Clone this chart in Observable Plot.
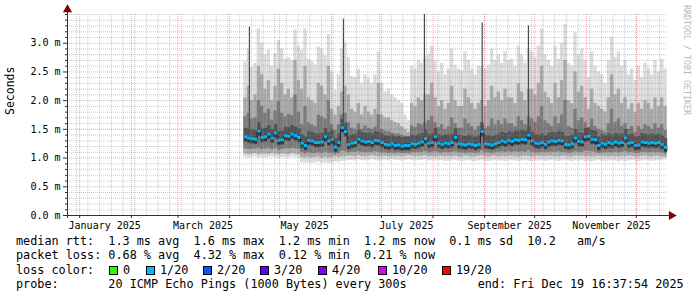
<!DOCTYPE html>
<html><head><meta charset="utf-8">
<script src="https://cdn.jsdelivr.net/npm/d3@7"></script>
<script src="https://cdn.jsdelivr.net/npm/@observablehq/plot@0.6"></script>
<style>
html,body{margin:0;padding:0;background:#fff}
body{width:697px;height:297px;overflow:hidden;position:relative;font-family:"DejaVu Sans Mono",monospace}
#chart{position:absolute;left:0;top:0}
#legend{position:absolute;left:16px;top:234px;width:670px;font-size:11.8px;line-height:14.3px;color:#000}
.ln{position:relative;height:14.3px;white-space:pre}
.it{position:absolute;top:0;white-space:pre}
.sq{position:absolute;top:3px;width:9px;height:9px;border:1px solid #000;box-sizing:border-box}
#wm{position:absolute;left:682px;top:5px;writing-mode:vertical-rl;font-size:8.3px;color:#b8b8b8;white-space:pre;line-height:10px}
</style></head><body>
<div id="chart"></div>
<div id="legend"></div>
<div id="wm">RRDTOOL / TOBI OETIKER</div>
<script>
// ---- time range (360 days ending at the "end" stamp) ----
const xStart = new Date(Date.UTC(2024, 11, 24, 16, 37, 54));
const xEnd = new Date(Date.UTC(2025, 11, 19, 16, 37, 54));
const firstColumn = Date.UTC(2025, 3, 9, 12); // data begins early April
const columnDays = 2;

// ---- x tick labels ----
const monthLabels = ["January 2025", "March 2025", "May 2025", "July 2025", "September 2025", "November 2025"];
const monthLabelDates = [Date.UTC(2025,0,16), Date.UTC(2025,2,16), Date.UTC(2025,4,16), Date.UTC(2025,6,16), Date.UTC(2025,8,16), Date.UTC(2025,10,16)];

// ---- y ticks ----
const yMajor = [0, 0.5, 1.0, 1.5, 2.0, 2.5, 3.0];
const yMinor = [0.1,0.2,0.3,0.4,0.6,0.7,0.8,0.9,1.1,1.2,1.3,1.4,1.6,1.7,1.8,1.9,2.1,2.2,2.3,2.4,2.6,2.7,2.8,2.9,3.1,3.2,3.3,3.4,3.5];

// ---- smoke (ms), one value per 2-day column ----
const hi = [
2.67,2.90,2.58,2.65,3.25,3.00,2.80,2.88,2.60,2.82,
3.05,2.90,2.72,2.75,2.70,3.23,2.95,2.88,3.25,2.72,
2.68,2.62,2.93,2.90,2.78,3.15,2.50,2.18,2.45,2.90,
3.00,2.75,2.42,2.40,2.55,2.30,2.45,2.38,2.30,2.45,
2.85,2.30,2.15,2.20,2.10,2.05,2.00,1.95,1.75,1.65,
2.60,2.55,2.70,2.65,2.75,2.80,2.95,2.70,2.50,2.65,
2.45,2.55,2.90,2.62,2.55,2.52,2.85,2.70,2.55,2.45,
2.60,2.60,2.55,2.62,2.90,2.70,2.80,2.65,2.85,2.70,
2.72,2.60,2.95,2.80,2.65,2.90,2.85,2.75,2.95,3.25,
2.80,2.70,2.60,2.95,2.72,3.00,3.33,2.65,2.60,3.18,
2.80,2.90,2.70,2.40,2.85,2.60,2.50,2.45,2.30,2.70,
3.10,2.75,2.85,2.60,2.70,2.45,2.55,2.35,2.60,2.40,
2.65,2.55,2.45,2.70,2.50,2.72,2.55];
const up2 = [
2.05,2.25,2.00,2.10,2.60,2.45,2.20,2.35,2.00,2.25,
2.55,2.30,2.10,2.20,2.05,2.70,2.35,2.20,2.60,2.05,
2.00,1.95,2.30,2.25,2.10,2.60,1.85,1.75,1.90,2.15,
2.25,2.10,1.85,1.80,1.95,1.75,1.90,1.80,1.75,1.85,
2.30,1.75,1.70,1.70,1.65,1.62,1.60,1.55,1.50,1.45,
1.95,1.90,2.05,2.00,2.10,2.10,2.30,2.05,1.90,2.00,
1.85,1.95,2.25,2.00,1.90,1.90,2.20,2.05,1.95,1.85,
1.95,2.00,1.90,2.00,2.25,2.05,2.15,2.00,2.20,2.05,
2.05,1.95,2.30,2.15,2.00,2.20,2.20,2.10,2.30,2.60,
2.15,2.05,1.95,2.30,2.05,2.35,2.70,2.00,1.95,2.50,
2.15,2.25,2.05,1.85,2.20,1.95,1.90,1.85,1.80,2.05,
2.45,2.10,2.20,1.95,2.05,1.85,1.95,1.80,1.95,1.85,
2.00,1.95,1.85,2.05,1.90,2.05,1.90];
const up3 = [
1.72,1.78,1.68,1.70,2.00,1.90,1.78,1.85,1.66,1.82,
1.98,1.78,1.72,1.76,1.74,2.10,1.80,1.58,1.90,1.62,
1.58,1.55,1.75,1.72,1.68,2.00,1.58,1.48,1.58,1.75,
1.78,1.62,1.52,1.50,1.60,1.50,1.56,1.52,1.50,1.54,
1.75,1.50,1.47,1.46,1.44,1.42,1.42,1.40,1.38,1.37,
1.56,1.53,1.60,1.58,1.62,1.65,1.72,1.62,1.53,1.58,
1.50,1.55,1.70,1.60,1.52,1.52,1.68,1.60,1.55,1.48,
1.55,1.62,1.52,1.55,1.68,1.58,1.65,1.58,1.68,1.60,
1.60,1.55,1.72,1.65,1.58,1.72,1.68,1.62,1.72,1.90,
1.65,1.60,1.55,1.72,1.60,1.75,2.00,1.55,1.52,1.85,
1.65,1.70,1.62,1.50,1.68,1.55,1.50,1.48,1.45,1.60,
1.85,1.62,1.68,1.55,1.60,1.50,1.55,1.45,1.55,1.50,
1.58,1.55,1.50,1.60,1.52,1.58,1.48];
const median = [
1.37,1.35,1.34,1.33,1.47,1.36,1.37,1.42,1.35,1.44,
1.31,1.32,1.39,1.38,1.42,1.39,1.36,1.26,1.22,1.31,
1.30,1.27,1.27,1.28,1.37,1.30,1.33,1.19,1.27,1.53,
1.46,1.24,1.26,1.27,1.33,1.30,1.28,1.29,1.27,1.31,
1.30,1.27,1.24,1.23,1.25,1.22,1.23,1.21,1.22,1.22,
1.25,1.24,1.26,1.28,1.34,1.26,1.27,1.37,1.26,1.24,
1.26,1.25,1.27,1.36,1.25,1.24,1.23,1.25,1.24,1.22,
1.24,1.46,1.25,1.24,1.23,1.25,1.27,1.30,1.28,1.31,
1.29,1.32,1.31,1.33,1.32,1.40,1.30,1.26,1.25,1.27,
1.24,1.28,1.30,1.29,1.31,1.30,1.24,1.23,1.25,1.35,
1.29,1.28,1.37,1.38,1.33,1.32,1.22,1.26,1.24,1.27,
1.25,1.28,1.26,1.27,1.35,1.26,1.27,1.22,1.23,1.28,
1.27,1.26,1.27,1.26,1.27,1.24,1.19];
const lo3 = [
1.16,1.15,1.15,1.16,1.17,1.15,1.16,1.17,1.15,1.17,
1.14,1.15,1.16,1.16,1.17,1.16,1.15,1.09,1.07,1.09,
1.08,1.08,1.09,1.08,1.10,1.08,1.09,1.06,1.08,1.12,
1.11,1.09,1.10,1.10,1.11,1.10,1.09,1.10,1.10,1.11,
1.10,1.09,1.09,1.08,1.09,1.08,1.09,1.08,1.08,1.08,
1.09,1.09,1.10,1.10,1.11,1.09,1.10,1.11,1.09,1.09,
1.10,1.09,1.10,1.11,1.09,1.09,1.08,1.09,1.09,1.08,
1.09,1.12,1.09,1.09,1.08,1.09,1.10,1.11,1.10,1.11,
1.10,1.11,1.10,1.11,1.10,1.13,1.10,1.09,1.09,1.10,
1.09,1.10,1.10,1.10,1.11,1.10,1.09,1.08,1.09,1.11,
1.10,1.10,1.12,1.12,1.11,1.10,1.08,1.09,1.09,1.10,
1.09,1.10,1.09,1.10,1.11,1.09,1.10,1.08,1.08,1.10,
1.10,1.09,1.10,1.09,1.10,1.09,1.07];
const lo2 = [
1.07,1.06,1.07,1.08,1.06,1.07,1.07,1.06,1.08,1.07,
1.06,1.07,1.07,1.06,1.08,1.07,1.06,1.01,1.00,1.01,
1.00,1.01,1.02,1.00,1.01,1.00,1.01,1.02,1.01,1.02,
1.02,1.03,1.03,1.02,1.04,1.03,1.02,1.03,1.04,1.03,
1.02,1.03,1.03,1.02,1.03,1.02,1.03,1.02,1.03,1.04,
1.03,1.02,1.03,1.03,1.04,1.02,1.03,1.02,1.03,1.03,
1.02,1.03,1.02,1.03,1.02,1.02,1.03,1.03,1.02,1.02,
1.03,1.04,1.02,1.02,1.03,1.03,1.02,1.03,1.02,1.03,
1.03,1.02,1.02,1.03,1.03,1.03,1.02,1.02,1.03,1.03,
1.02,1.03,1.03,1.02,1.02,1.03,1.03,1.02,1.02,1.03,
1.03,1.03,1.02,1.03,1.02,1.02,1.03,1.03,1.02,1.02,
1.03,1.02,1.02,1.03,1.02,1.03,1.03,1.02,1.02,1.03,
1.03,1.02,1.02,1.03,1.03,1.02,1.01];
const lo = [
1.01,1.00,1.01,1.02,1.00,1.01,1.00,1.01,1.02,1.01,
1.00,1.01,1.01,1.00,1.02,1.01,1.00,0.92,0.91,0.92,
0.91,0.92,0.93,0.91,0.92,0.91,0.92,0.93,0.92,0.94,
0.95,0.96,0.96,0.95,0.97,0.96,0.95,0.96,0.97,0.96,
0.95,0.96,0.96,0.95,0.97,0.96,0.96,0.95,0.96,0.97,
0.96,0.95,0.96,0.96,0.97,0.95,0.96,0.95,0.96,0.96,
0.94,0.95,0.95,0.96,0.95,0.94,0.95,0.96,0.95,0.94,
0.95,0.96,0.95,0.94,0.95,0.96,0.95,0.95,0.94,0.95,
0.96,0.95,0.94,0.95,0.96,0.95,0.94,0.95,0.95,0.96,
0.94,0.95,0.96,0.95,0.94,0.95,0.96,0.95,0.94,0.95,
0.95,0.96,0.94,0.95,0.93,0.95,0.96,0.95,0.94,0.95,
0.96,0.95,0.93,0.95,0.94,0.95,0.96,0.95,0.94,0.95,
0.96,0.95,0.94,0.95,0.96,0.95,0.97];

// ---- short bursts of slow pings (thin dark streaks) ----
const spikeDates = ["2025-04-12T20:00Z", "2025-06-08T06:00Z", "2025-07-26T20:00Z", "2025-08-30T12:00Z", "2025-09-27T06:00Z"];
const spikeFrom = [1.34, 1.50, 1.30, 1.45, 1.38];
const spikeTo = [3.28, 3.42, 3.50, 3.35, 3.30];

// ---- legend ----
const lossLabels = ["0", "1/20", "2/20", "3/20", "4/20", "10/20", "19/20"];
const lossColors = ["#26ff00", "#00b8ff", "#0059ff", "#5e00ff", "#7e00ff", "#dd00ff", "#ff0000"];
const rttLine = "median rtt:  1.3 ms avg  1.6 ms max  1.2 ms min  1.2 ms now  0.1 ms sd  10.2   am/s";
const lossLine = "packet loss: 0.68 % avg  4.32 % max  0.12 % min  0.21 % now";
const probeLine = "probe:       20 ICMP Echo Pings (1000 Bytes) every 300s          end: Fri Dec 19 16:37:54 2025";
const medianColor = lossColors[1];

// ---- build table ----
const DAY = 864e5;
const cols = median.map((m, i) => ({
  x1: new Date(firstColumn + i * columnDays * DAY),
  x2: new Date(firstColumn + (i + 1) * columnDays * DAY),
  hi: hi[i], up2: up2[i], up3: up3[i], med: m, lo3: lo3[i], lo2: lo2[i], lo: lo[i]
}));
const spikes = spikeDates.map((d, i) => ({x: new Date(d), y1: spikeFrom[i], y2: spikeTo[i]}));
const steps = cols.map(c => ({x: c.x1, y: c.med})).concat([{x: cols[cols.length-1].x2, y: cols[cols.length-1].med}]);
const months = d3.utcMonths(xStart, xEnd);
const weeks = d3.utcMondays(xStart, xEnd);
const labelMap = new Map(monthLabelDates.map((d, i) => [d, monthLabels[i]]));

const axisCol = "#333";
const chart = Plot.plot({
  width: 697, height: 234,
  marginLeft: 67, marginRight: 30, marginTop: 14, marginBottom: 19,
  style: {fontFamily: "'DejaVu Sans Mono', monospace", fontSize: "10px", background: "#fff", color: "#000", overflow: "visible"},
  x: {type: "utc", domain: [xStart, xEnd]},
  y: {domain: [0, 3.5]},
  marks: [
    Plot.rect(cols, {x1: "x1", x2: "x2", y1: "lo", y2: "hi", fill: "#dcdcdc"}),
    Plot.rect(cols, {x1: "x1", x2: "x2", y1: "lo2", y2: "up2", fill: "#a9a9a9"}),
    Plot.rect(cols, {x1: "x1", x2: "x2", y1: "lo3", y2: "up3", fill: "#7a7a7a"}),
    Plot.ruleX(spikes, {x: "x", y1: "y1", y2: "y2", stroke: "#4a4a4a", strokeWidth: 1.2}),
    Plot.link(cols, {x1: "x1", x2: "x2", y1: "med", y2: "med", stroke: "#525252", strokeWidth: 14, dy: -2}),
    Plot.link(cols, {x1: "x1", x2: "x2", y1: "med", y2: "med", stroke: "#333333", strokeWidth: 6, dy: 1}),
    Plot.line(steps, {x: "x", y: "y", curve: "step-after", stroke: "#202020", strokeWidth: 1}),
    Plot.link(cols, {x1: "x1", x2: "x2", y1: "med", y2: "med", stroke: medianColor, strokeWidth: 3}),
    // grid on top, as rrdtool draws it
    Plot.ruleY(yMinor, {stroke: "#8c8c8c", strokeOpacity: 0.45, strokeDasharray: "1,1"}),
    Plot.ruleX(weeks, {stroke: "#8c8c8c", strokeOpacity: 0.45, strokeDasharray: "1,1"}),
    Plot.ruleY(yMajor.filter(v => v > 0), {stroke: "#e00000", strokeOpacity: 0.33, strokeDasharray: "1,1"}),
    Plot.ruleX(months, {stroke: "#e00000", strokeOpacity: 0.33, strokeDasharray: "1,1"}),
    // axes
    Plot.axisY(yMinor, {tickSize: 2, tickFormat: () => "", stroke: axisCol, label: null}),
    Plot.axisY(yMajor, {tickSize: 4, tickPadding: 3, tickFormat: d => d.toFixed(1) + " m", stroke: axisCol, fontSize: 10, label: null}),
    Plot.axisX(months, {tickSize: 3, tickFormat: () => "", stroke: axisCol, label: null}),
    Plot.axisX(monthLabelDates.map(d => new Date(d)), {tickSize: 0, tickPadding: 6.5, tickFormat: d => labelMap.get(+d), fontSize: 10, label: null}),
    Plot.ruleY([0], {stroke: axisCol, insetLeft: -4, insetRight: -2}),
    Plot.ruleX([xStart], {stroke: axisCol, insetTop: -2, insetBottom: -3}),
    Plot.dot([0], {frameAnchor: "top-left", symbol: "triangle", r: 3.4, fill: "#7f0000", stroke: "none", dy: -5}),
    Plot.dot([0], {frameAnchor: "bottom-right", symbol: "triangle", rotate: 90, r: 3.4, fill: "#7f0000", stroke: "none", dx: 4}),
    Plot.text(["Seconds"], {frameAnchor: "left", text: d => d, rotate: -90, dx: -57, fontSize: 11.5})
  ]
});
document.getElementById("chart").appendChild(chart);

// ---- legend text ----
const lg = document.getElementById("legend");
function line(html) { const d = document.createElement("div"); d.className = "ln"; d.innerHTML = html; lg.appendChild(d); return d; }
line(rttLine);
line(lossLine);
const l3 = line("loss color:");
const sqLeft = [93, 130, 187, 244, 302, 362, 426]; // legend layout (px from legend's left edge)
lossLabels.forEach((lab, i) => {
  const s = document.createElement("span"); s.className = "sq"; s.style.left = sqLeft[i] + "px"; s.style.background = lossColors[i]; l3.appendChild(s);
  const t = document.createElement("span"); t.className = "it"; t.style.left = (sqLeft[i] + 14) + "px"; t.textContent = lab; l3.appendChild(t);
});
line(probeLine);
</script>
</body></html>
